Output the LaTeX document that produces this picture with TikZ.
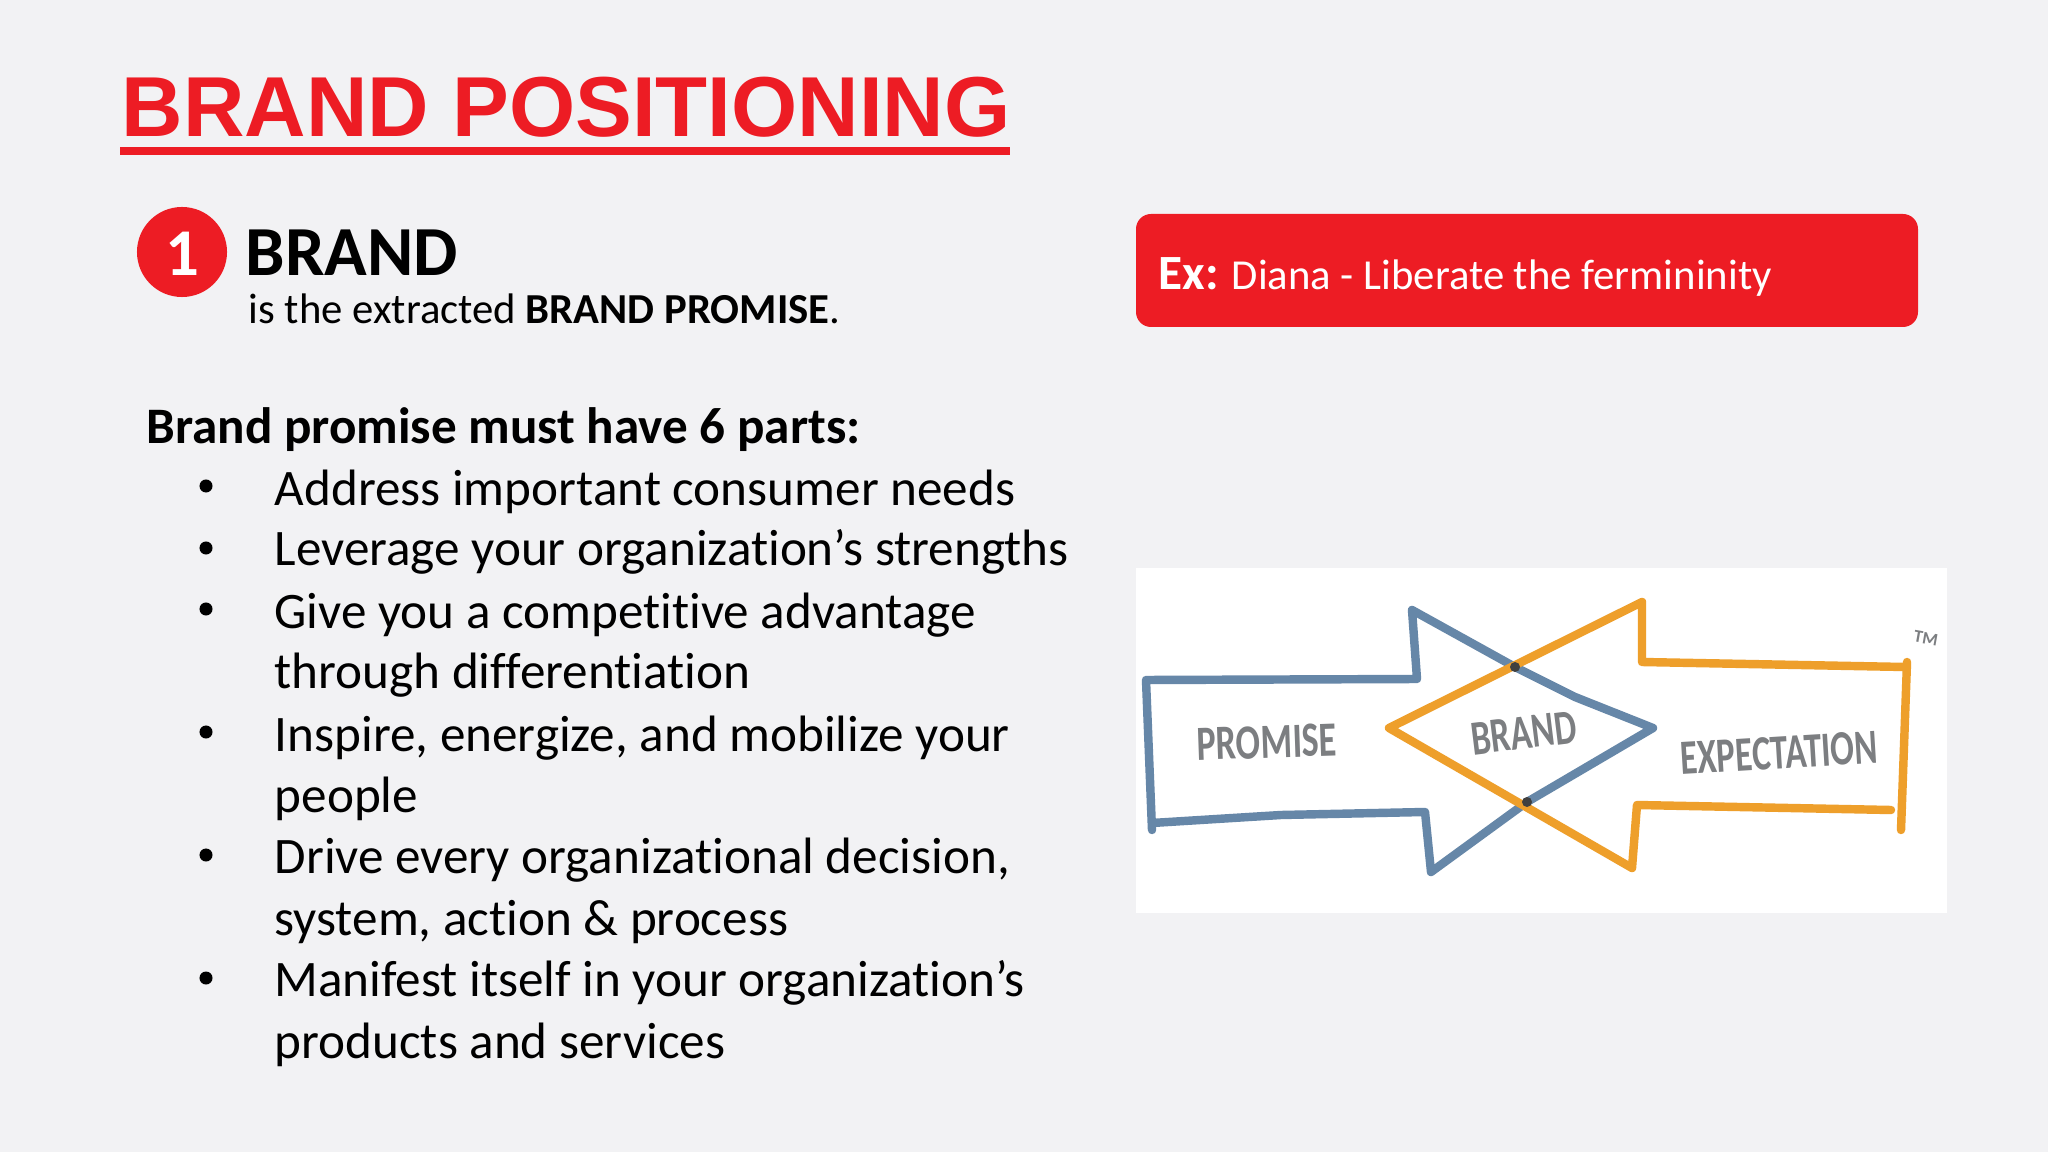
\documentclass[tikz,border=0pt]{standalone}
\usepackage{fontspec}
\setmainfont[Ligatures=NoCommon]{Carlito}
\newfontfamily\titlefont{Liberation Sans}
\definecolor{brandred}{HTML}{ED1C24}
\definecolor{slidegray}{HTML}{F2F2F4}
\definecolor{arrowblue}{HTML}{6687A8}
\definecolor{arroworange}{HTML}{EE9F2B}
\definecolor{sketchgray}{HTML}{7C7E81}

\begin{document}
\begin{tikzpicture}[x=0.01cm, y=-0.01cm, line join=round]
\tikzstyle{bodyline} = [anchor=base west, inner sep=0pt, font=\fontsize{14.55}{17}\selectfont]
\tikzstyle{bulletdot} = [circle, fill=black, inner sep=0pt, minimum size=0.13cm]
\tikzstyle{sketchline} = [line width=2.4pt, line cap=round]
\tikzstyle{sketchtext} = [text=sketchgray, inner sep=0pt, transform shape, font=\bfseries\fontsize{10}{12}\selectfont]

\fill[slidegray] (0,0) rectangle (2048,1152);

% heading
\node[anchor=base west, inner sep=0pt, text=brandred, font=\titlefont\bfseries\fontsize{24.2}{29}\selectfont] (title) at (121,137) {BRAND POSITIONING};
\fill[brandred] (120,147) rectangle (1010,155);

\node[circle, fill=brandred, minimum size=0.9cm, inner sep=0pt] (one) at (182,252) {};
\node[text=white, inner sep=0pt, font=\bfseries\fontsize{19}{22}\selectfont] (onedigit) at (182,254) {1};
\node[anchor=base west, inner sep=0pt, font=\bfseries\fontsize{20}{24}\selectfont] (brand) at (245,276) {BRAND};
\node[anchor=base west, inner sep=0pt, font=\fontsize{12.15}{15}\selectfont] (extracted) at (248,324) {is the extracted \textbf{BRAND PROMISE}.};

% list
\node[bodyline, font=\bfseries\fontsize{14.55}{17}\selectfont] (parts) at (146,444) {Brand promise must have 6 parts:};
\node[bodyline] (needs) at (274,505) {Address important consumer needs};
\node[bodyline] (strengths) at (274,566) {Leverage your organization’s strengths};
\node[bodyline] (advantage) at (274,628) {Give you a competitive advantage};
\node[bodyline] (differ) at (274,689) {through differentiation};
\node[bodyline] (inspire) at (274,751) {Inspire, energize, and mobilize your};
\node[bodyline] (people) at (274,812) {people};
\node[bodyline] (drive) at (274,873) {Drive every organizational decision,};
\node[bodyline] (system) at (274,935) {system, action \& process};
\node[bodyline] (manifest) at (274,996) {Manifest itself in your organization’s};
\node[bodyline] (products) at (274,1058) {products and services};

\node[bulletdot] (dot1) at (206,486) {};
\node[bulletdot] (dot2) at (206,548) {};
\node[bulletdot] (dot3) at (206,609) {};
\node[bulletdot] (dot4) at (206,732) {};
\node[bulletdot] (dot5) at (206,855) {};
\node[bulletdot] (dot6) at (206,978) {};

% example box
\fill[brandred, rounded corners=0.15cm] (1136,214) rectangle (1918,327);
\node[anchor=base west, inner sep=0pt, text=white, font=\fontsize{12.15}{14}\selectfont] (diana) at (1158,290) {{\bfseries\fontsize{14}{16}\selectfont Ex:} Diana - Liberate the ferminin{}ity};

% sketch
\fill[white] (1136,568) rectangle (1947,913);
\draw[sketchline, arrowblue] (1152,830) -- (1146,680) -- (1417,679) -- (1412,610) -- (1515,667) -- (1575,697) -- (1653,728) -- (1527,802) -- (1431,872) -- (1425,812) -- (1281,815) -- (1152,823);
\draw[sketchline, arroworange] (1905,667) -- (1642,662) -- (1642,602) -- (1389,728) -- (1632,868) -- (1637,805) -- (1891,810);
\draw[sketchline, arroworange] (1907,662) -- (1901,830);
\fill[black!75] (1515,667) circle (0.05cm);
\fill[black!75] (1527,802) circle (0.05cm);

\node[sketchtext, rotate=2, xscale=1.03, yscale=1.4] (promise) at (1267,742) {PROMISE};
\node[sketchtext, rotate=7, xscale=1.0, yscale=1.4] (brandword) at (1524,733) {BRAND};
\node[sketchtext, rotate=3.5, xscale=1.0, yscale=1.4] (expectation) at (1779,753) {EXPECTATION};
\node[sketchtext, rotate=-10, font=\bfseries\fontsize{5}{6}\selectfont] (tm) at (1926,638) {TM};
\end{tikzpicture}
\end{document}
